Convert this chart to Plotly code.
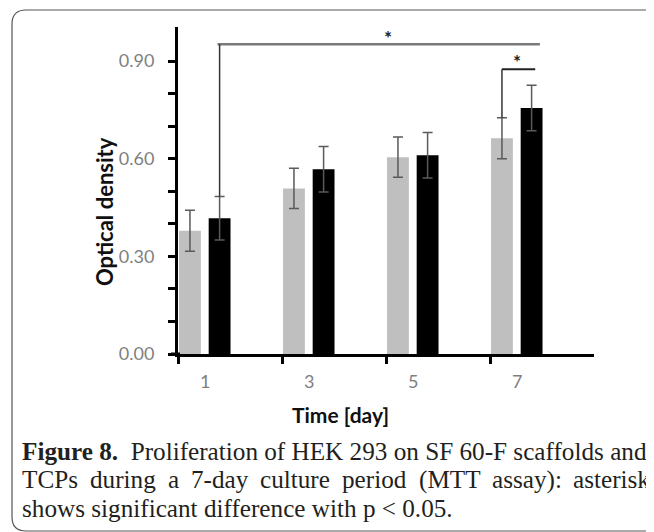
import plotly.graph_objects as go

# ---------------- data ----------------
days = ["1", "3", "5", "7"]
sf_od = [0.379, 0.509, 0.605, 0.663]      # SF 60-F scaffolds (grey)
sf_err = [0.063, 0.062, 0.062, 0.063]
tcp_od = [0.417, 0.568, 0.611, 0.756]     # TCPs (black)
tcp_err = [0.067, 0.070, 0.070, 0.070]
y_ticks = [0.0, 0.1, 0.2, 0.3, 0.4, 0.5, 0.6, 0.7, 0.8, 0.9]
y_tick_text = ["0.00", "", "", "0.30", "", "", "0.60", "", "", "0.90"]

x_title = "Time [day]"
y_title = "Optical density"
cap_line1 = "<b>Figure 8.</b>  Proliferation of HEK 293 on SF 60-F scaffolds and"
cap_line2_words = ["TCPs", "during", "a", "7-day", "culture", "period", "(MTT", "assay):", "asterisk"]
cap_line3 = "shows significant difference with p < 0.05."

# ---------------- layout geometry ----------------
# the page body has an 8px default margin, so the figure is drawn 8px smaller
# and every target pixel position is shifted by that offset
OFF = 8
W, H = 654 - OFF, 532 - OFF
L, R, T, B = 178 - OFF, 60, 27 - OFF, 178
PW, PH = W - L - R, H - T - B


def X(tx):
    return (tx - OFF - L) / PW


def Y(ty):
    return (H - B - (ty - OFF)) / PH


grey_off, black_off, bw = 0.115, 0.40, 0.21
idx = list(range(len(days)))

fig = go.Figure()
fig.add_trace(go.Bar(
    x=[i + grey_off for i in idx], y=sf_od, width=bw,
    marker=dict(color="#bfbfbf", line=dict(width=0)),
    error_y=dict(type="data", array=sf_err, color="#5a5a5a", thickness=1.5, width=5),
    name="SF 60-F", showlegend=False,
))
fig.add_trace(go.Bar(
    x=[i + black_off for i in idx], y=tcp_od, width=bw,
    marker=dict(color="#000000", line=dict(width=0)),
    error_y=dict(type="data", array=tcp_err, color="#5a5a5a", thickness=1.5, width=5),
    name="TCP", showlegend=False,
))

# significance brackets
long_y = 0.952
fig.add_shape(type="line", xref="x", yref="y", x0=black_off - 0.02, x1=3 + black_off + 0.08,
              y0=long_y, y1=long_y, line=dict(color="#7a7a7a", width=2.5))
fig.add_shape(type="line", xref="x", yref="y", x0=black_off, x1=black_off,
              y0=long_y, y1=tcp_od[0] + tcp_err[0], line=dict(color="#333333", width=1.5))
short_y = 0.875
fig.add_shape(type="line", xref="x", yref="y", x0=3 + grey_off, x1=3 + black_off + 0.035,
              y0=short_y, y1=short_y, line=dict(color="#222222", width=2))
fig.add_shape(type="line", xref="x", yref="y", x0=3 + grey_off, x1=3 + grey_off,
              y0=short_y, y1=sf_od[3] + sf_err[3], line=dict(color="#333333", width=1.5))
fig.add_annotation(x=2.02, y=0.972, xref="x", yref="y", text="<b>*</b>", showarrow=False,
                   xanchor="center", yanchor="middle",
                   font=dict(family="Lato", size=19, color="#222222"))
fig.add_annotation(x=3.26, y=0.900, xref="x", yref="y", text="<b>*</b>", showarrow=False,
                   xanchor="center", yanchor="middle",
                   font=dict(family="Lato", size=19, color="#222222"))

# x-axis line stub to the left of the y axis
fig.add_shape(type="line", xref="paper", yref="y", x0=X(171), x1=X(180), y0=0, y1=0,
              line=dict(color="black", width=3))

# x category labels (centred on each bar pair)
for i, d in enumerate(days):
    fig.add_annotation(x=i + 0.26, y=Y(381), xref="x", yref="paper", text=d, showarrow=False,
                       xanchor="center", yanchor="middle",
                       font=dict(family="Lato", size=18, color="#7f7f7f"))

# axis titles
fig.add_annotation(x=X(340), y=Y(414), xref="paper", yref="paper", text="<b>%s</b>" % x_title,
                   xanchor="center", yanchor="middle",
                   showarrow=False, font=dict(family="Lato", size=21, color="#111111"))
fig.add_annotation(x=X(104), y=Y(212), xref="paper", yref="paper", text="<b>%s</b>" % y_title,
                   xanchor="center", yanchor="middle",
                   textangle=-90, showarrow=False, font=dict(family="Lato", size=22, color="#111111"))

# caption
cap_font = dict(family="Liberation Serif", size=25.2, color="#231f20")
fig.add_annotation(x=X(20), y=Y(451), xref="paper", yref="paper", text=cap_line1, xanchor="left",
                   yanchor="middle", showarrow=False, font=cap_font)
word_px = [22, 90.0, 167.8, 191.0, 260.4, 342.4, 418.8, 492.4]
for w, px in zip(cap_line2_words[:-1], word_px):
    fig.add_annotation(x=X(px - 2), y=Y(480), xref="paper", yref="paper", text=w, xanchor="left",
                       yanchor="middle", showarrow=False, font=cap_font)
fig.add_annotation(x=X(652), y=Y(480), xref="paper", yref="paper", text=cap_line2_words[-1],
                   xanchor="right", yanchor="middle", showarrow=False, font=cap_font)
fig.add_annotation(x=X(20), y=Y(509), xref="paper", yref="paper", text=cap_line3, xanchor="left",
                   yanchor="middle", showarrow=False, font=cap_font)

# rounded frame
x0, y0, x1, y1, r = 12, 10, 664, 531, 14
path = (f"M {X(x0)},{Y(y0 + r)} Q {X(x0)},{Y(y0)} {X(x0 + r)},{Y(y0)} "
        f"L {X(x1)},{Y(y0)} L {X(x1)},{Y(y1)} L {X(x0 + r)},{Y(y1)} "
        f"Q {X(x0)},{Y(y1)} {X(x0)},{Y(y1 - r)} Z")
fig.add_shape(type="path", xref="paper", yref="paper", path=path,
              line=dict(color="#555555", width=1.2), fillcolor="rgba(0,0,0,0)", layer="below")

fig.update_layout(
    width=W, height=H,
    margin=dict(l=L, r=R, t=T, b=B, pad=0),
    paper_bgcolor="white", plot_bgcolor="white",
    barmode="overlay",
    xaxis=dict(range=[0, 4], tickvals=[0, 1, 2, 3], showticklabels=False, ticks="outside",
               ticklen=7, tickwidth=3, tickcolor="black", showline=True, linewidth=3,
               linecolor="black", showgrid=False, zeroline=False, fixedrange=True),
    yaxis=dict(range=[0, 1.005], tickvals=y_ticks, ticktext=y_tick_text, ticks="outside",
               ticklen=7, tickwidth=2.5, tickcolor="black", showline=True, linewidth=3,
               linecolor="black", showgrid=False, zeroline=False, ticklabelstandoff=10,
               tickfont=dict(family="Lato", size=18, color="#7f7f7f"), fixedrange=True),
)

fig.write_html("out.html")
